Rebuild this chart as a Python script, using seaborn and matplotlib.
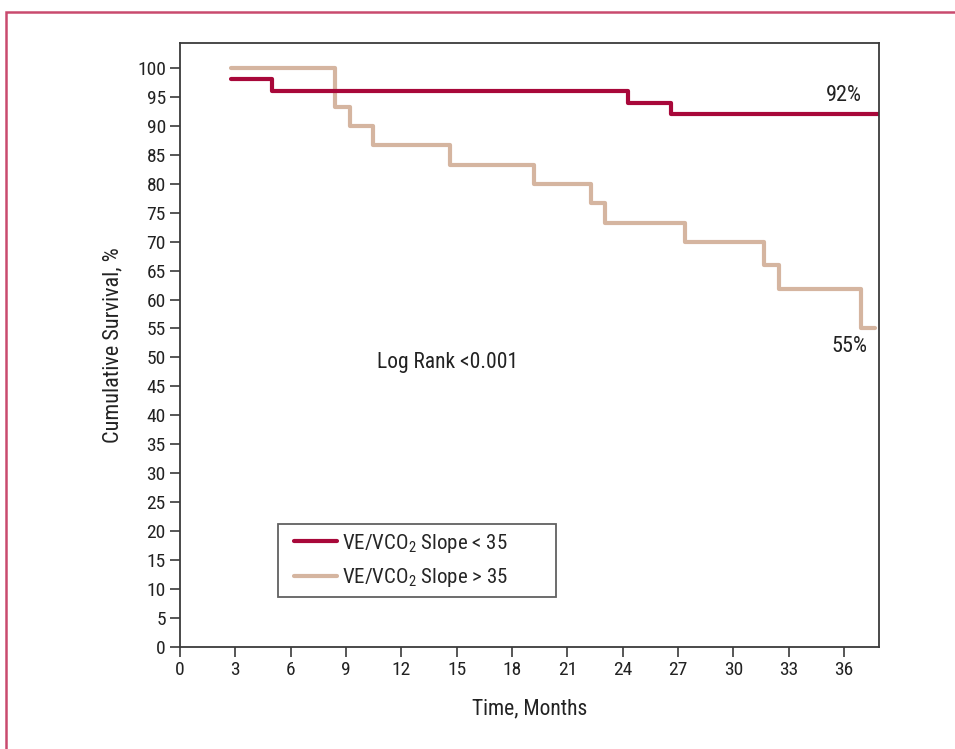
import matplotlib
matplotlib.use("Agg")
import matplotlib.pyplot as plt
import numpy as np
import pandas as pd
import seaborn as sns
from matplotlib.legend_handler import HandlerLine2D
from matplotlib.lines import Line2D
from matplotlib.patches import Rectangle

# Kaplan-Meier step curves (months, % surviving)
low_time = [2.77, 5.0, 24.3, 26.6, 37.9]
low_surv = [98.0, 96.0, 94.0, 92.0, 92.0]
high_time = [2.77, 8.42, 9.22, 10.44, 14.64, 19.2, 22.29, 23.04, 27.4, 31.67, 32.5, 36.9, 37.7]
high_surv = [100.0, 93.3, 90.0, 86.7, 83.3, 80.0, 76.7, 73.3, 70.0, 66.0, 61.8, 55.0, 55.0]
group_labels = [r"VE/VCO$_2$ Slope < 35", r"VE/VCO$_2$ Slope > 35"]
x_ticks = list(range(0, 37, 3))
y_ticks = list(range(0, 101, 5))

RED = "#a8083a"
TAN = "#d5b5a0"
AX_COLOR = "#3a3a3a"
TXT = "#222222"

sns.set_theme(style="white")
FONT = ["Roboto Condensed", "Archivo Narrow", "Liberation Sans", "DejaVu Sans"]
plt.rcParams["font.family"] = FONT
plt.rcParams["mathtext.fontset"] = "custom"
plt.rcParams["mathtext.rm"] = "Roboto Condensed"
plt.rcParams["mathtext.it"] = "Roboto Condensed"
plt.rcParams["mathtext.default"] = "rm"

df = pd.concat([
    pd.DataFrame({"time": low_time, "surv": low_surv, "group": group_labels[0]}),
    pd.DataFrame({"time": high_time, "surv": high_surv, "group": group_labels[1]}),
])

fig = plt.figure(figsize=(9.55, 7.49), dpi=100)
ax = fig.add_axes([180 / 955, 1 - 647 / 749, (879 - 180) / 955, (647 - 43) / 749])

sns.lineplot(data=df[df["group"] == group_labels[1]], x="time", y="surv", ax=ax,
             drawstyle="steps-post", color=TAN, linewidth=3.0, label=group_labels[1], sort=False)
sns.lineplot(data=df[df["group"] == group_labels[0]], x="time", y="surv", ax=ax,
             drawstyle="steps-post", color=RED, linewidth=3.0, label=group_labels[0], sort=False)

ax.set_xlim(0, 37.9)
ax.set_ylim(0, 104.3)
ax.set_xticks(x_ticks)
ax.set_yticks(y_ticks)
ax.tick_params(axis="both", direction="out", length=7.2, width=1.2, color=AX_COLOR,
               labelsize=14, labelcolor=TXT, pad=3, left=True, bottom=True)
for s in ax.spines.values():
    s.set_color(AX_COLOR)
    s.set_linewidth(1.3)

ax.set_xlabel("Time, Months", fontsize=15.5, color=TXT, labelpad=14)
ax.set_ylabel("Cumulative Survival, %", fontsize=16, color=TXT, labelpad=10)

ax.text(36.0, low_surv[-1] + 1.5, "92%", fontsize=16, color=TXT, ha="center", va="bottom")
ax.text(36.3, high_surv[-1] - 1.3, "55%", fontsize=16, color=TXT, ha="center", va="top")
ax.text(14.5, 48.2, "Log Rank <0.001", fontsize=15.5, color=TXT, ha="center", va="baseline")

handles, labels = ax.get_legend_handles_labels()
order = [labels.index(group_labels[0]), labels.index(group_labels[1])]
leg = ax.legend([handles[i] for i in order], [labels[i] for i in order],
                loc="lower left",
                bbox_to_anchor=((278 - 180) / 699, (647 - 597) / 604, (556 - 278) / 699, 0.1),
                mode="expand", frameon=True, fancybox=False, fontsize=15,
                handlelength=2.42, handletextpad=0.24, borderpad=0.39, labelspacing=0.54,
                borderaxespad=0, handler_map={Line2D: HandlerLine2D(xpad=0.4)})
leg.get_frame().set_edgecolor(AX_COLOR)
leg.get_frame().set_linewidth(1.3)
for line in leg.get_lines():
    line.set_linewidth(3.0)

# pinkish page frame, cut off at right and bottom
fig.patches.append(Rectangle((6 / 955, -0.05), 1.2, 1 - 12 / 749 + 0.05, transform=fig.transFigure,
                             fill=False, edgecolor="#c94a6e", linewidth=1.8))

fig.savefig("out.png", dpi=100)
